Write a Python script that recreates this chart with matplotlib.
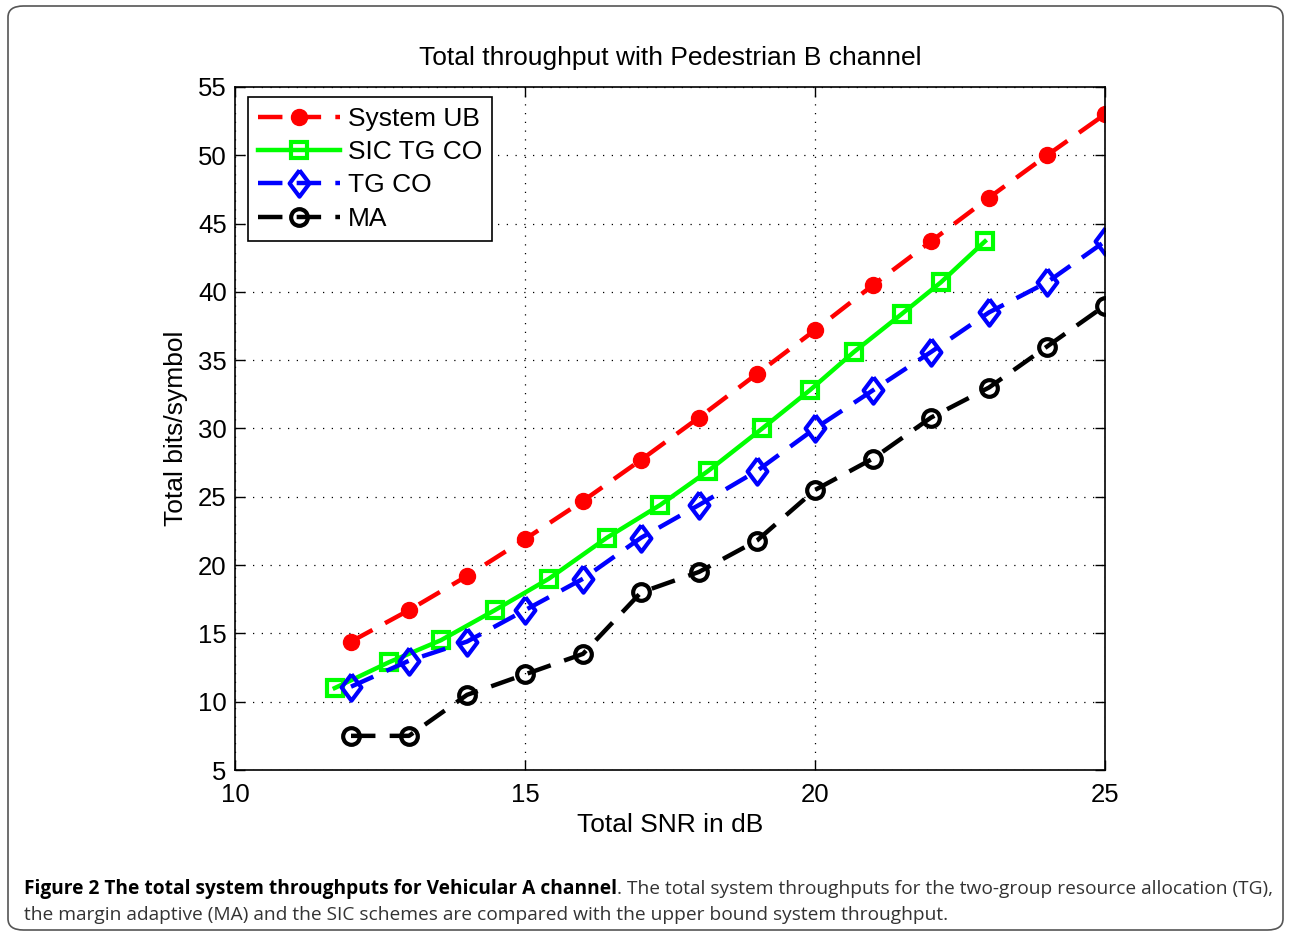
import matplotlib
matplotlib.use("Agg")
import matplotlib.pyplot as plt
from matplotlib.patches import FancyBboxPatch

# data
snr = [12, 13, 14, 15, 16, 17, 18, 19, 20, 21, 22, 23, 24, 25]
snr_sic = [11.72, 12.66, 13.55, 14.48, 15.41, 16.41, 17.33, 18.16,
           19.09, 19.91, 20.67, 21.5, 22.17, 22.93]
system_ub = [14.4, 16.7, 19.2, 21.9, 24.7, 27.7, 30.8, 34.0, 37.2, 40.5, 43.7, 46.9, 50.0, 53.0]
sic_tg_co = [11.0, 12.9, 14.5, 16.7, 19.0, 22.0, 24.4, 26.9, 30.0, 32.8, 35.6, 38.4, 40.7, 43.7]
tg_co = [11.1, 13.0, 14.4, 16.7, 19.0, 22.0, 24.4, 26.9, 30.0, 32.8, 35.6, 38.5, 40.7, 43.7]
ma = [7.5, 7.5, 10.5, 12.0, 13.5, 18.0, 19.5, 21.8, 25.5, 27.8, 30.8, 33.0, 36.0, 39.0]

W, H = 1291, 936
fig = plt.figure(figsize=(W / 100, H / 100), dpi=100)
plt.rcParams["font.family"] = ["Liberation Sans", "DejaVu Sans"]

# rounded frame round the whole figure panel
frame = FancyBboxPatch((8 / W, 6 / H), 1275 / W, 924 / H,
                       boxstyle="round,pad=0,rounding_size=0.012",
                       transform=fig.transFigure, fill=False,
                       edgecolor="#555555", linewidth=1.2)
fig.patches.append(frame)

# matlab style diamond, a bit narrower than tall
diamond = [(0, 1), (0.75, 0), (0, -1), (-0.75, 0), (0, 1)]

ax = fig.add_axes([235 / W, 1 - 770 / H, 870 / W, 683 / H])
dash = (5.5, 3.2)
lw = 3.2
ax.plot(snr, system_ub, color="#ff0000", lw=lw, dashes=dash, marker="o",
        ms=11.5, mfc="#ff0000", mec="#ff0000", label="System UB")
ax.plot(snr_sic, sic_tg_co, color="#00ff00", lw=lw, marker="s",
        ms=11, mfc="none", mec="#00ff00", mew=3, label="SIC TG CO")
ax.plot(snr, tg_co, color="#0000ff", lw=lw, dashes=dash, marker=diamond,
        ms=19, mfc="none", mec="#0000ff", mew=3, label="TG CO")
ax.plot(snr, ma, color="black", lw=lw, dashes=dash, marker="o",
        ms=12, mfc="none", mec="black", mew=3, label="MA")

ax.set_xlim(10, 25)
ax.set_ylim(5, 55)
ax.set_xticks([10, 15, 20, 25])
ax.set_yticks(range(5, 56, 5))
ax.tick_params(direction="in", length=7, width=1, top=True, right=True,
               labelsize=18.5, pad=6)
ax.tick_params(axis="x", pad=9)
ax.grid(True, color="black", linestyle=(0, (1, 6)), linewidth=0.9)
for s in ax.spines.values():
    s.set_linewidth(1.2)

ax.set_title("Total throughput with Pedestrian B channel", fontsize=19, pad=16)
ax.set_xlabel("Total SNR in dB", fontsize=19, labelpad=5)
ax.set_ylabel("Total bits/symbol", fontsize=19, labelpad=7)

leg = ax.legend(loc="upper left", bbox_to_anchor=(13 / 870, 1 - 10 / 683), fontsize=19,
                handlelength=3.1, handletextpad=0.3, labelspacing=0.35,
                borderpad=0.38, borderaxespad=0, fancybox=False, framealpha=1,
                edgecolor="black")
leg.get_frame().set_linewidth(1.2)

# caption, bold lead then regular text
cap_font = ["Open Sans", "DejaVu Sans"]
cap_size = 13.8
bold = fig.text(24 / W, 1 - 889 / H, "Figure 2 The total system throughputs for Vehicular A channel",
                fontsize=cap_size, fontweight="bold", family=cap_font, va="center")
fig.canvas.draw()
bb = bold.get_window_extent()
fig.text(bb.x1 / W, 1 - 889 / H,
         ". The total system throughputs for the two-group resource allocation (TG),",
         fontsize=cap_size, family=cap_font, va="center", color="#333333")
fig.text(24 / W, 1 - 915 / H,
         "the margin adaptive (MA) and the SIC schemes are compared with the upper bound system throughput.",
         fontsize=cap_size, family=cap_font, va="center", color="#333333")

fig.savefig("out.png", dpi=100)
